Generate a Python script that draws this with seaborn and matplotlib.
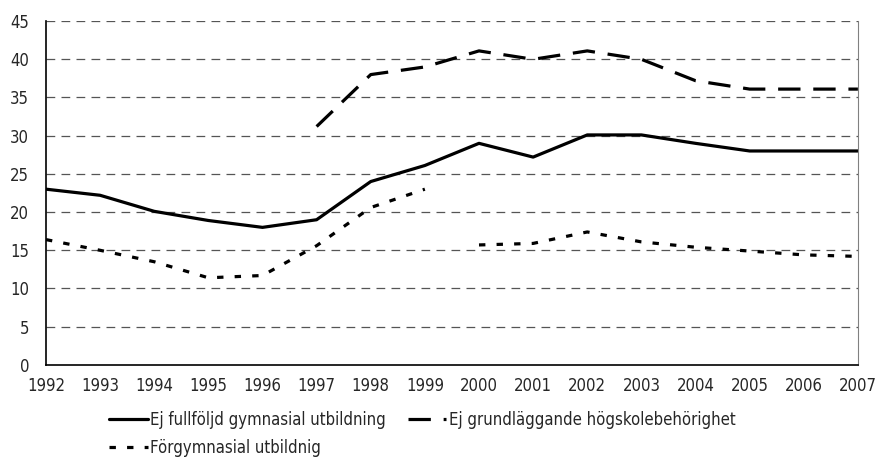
import numpy as np
import pandas as pd
import matplotlib
matplotlib.use("Agg")
import matplotlib.pyplot as plt
import seaborn as sns

# Data
years = list(range(1992, 2008))
ej_fullfoljd = [23.0, 22.2, 20.1, 18.9, 18.0, 19.0, 24.0, 26.1,
                29.0, 27.2, 30.1, 30.1, 29.0, 28.0, 28.0, 28.0]
ej_behorighet = [np.nan, np.nan, np.nan, np.nan, np.nan, 31.2, 38.0, 39.0,
                 41.1, 40.0, 41.1, 40.0, 37.2, 36.1, 36.1, 36.1]
# Förgymnasial: two separate segments (break between 1999 and 2000)
forgymn_years_a = list(range(1992, 2000))
forgymn_a = [16.4, 15.0, 13.5, 11.4, 11.7, 15.6, 20.6, 23.0]
forgymn_years_b = list(range(2000, 2008))
forgymn_b = [15.7, 15.9, 17.4, 16.1, 15.4, 14.9, 14.4, 14.2]

labels = ["Ej fullföljd gymnasial utbildning",
          "Ej grundläggande högskolebehörighet",
          "Förgymnasial utbildnig"]

sns.set_style("white")
plt.rcParams['font.family'] = ['DejaVu Sans']
plt.rcParams['font.stretch'] = 'condensed'

fig = plt.figure(figsize=(8.79, 4.69), dpi=100)
ax = fig.add_axes([0.0523, 0.222, 0.976 - 0.0523, 0.955 - 0.222])

# gridlines
for v in range(5, 50, 5):
    ax.axhline(v, color="#555555", lw=0.9, dashes=(7, 5), zorder=0)

lw = 2.3
sns.lineplot(x=years, y=ej_fullfoljd, ax=ax, color="black", lw=lw,
             label=labels[0])
df2 = pd.DataFrame({"year": years, "v": ej_behorighet}).dropna()
sns.lineplot(data=df2, x="year", y="v", ax=ax, color="black", lw=lw,
             label=labels[1])
ax.lines[-1].set_dashes((7, 4))
sns.lineplot(x=forgymn_years_a, y=forgymn_a, ax=ax, color="black", lw=lw,
             label=labels[2])
ax.lines[-1].set_dashes((2, 3.5))
sns.lineplot(x=forgymn_years_b, y=forgymn_b, ax=ax, color="black", lw=lw)
ax.lines[-1].set_dashes((2, 3.5))

ax.set_xlim(1992, 2007)
ax.set_ylim(0, 45)
ax.set_xticks(years)
ax.set_yticks(range(0, 50, 5))
ax.tick_params(axis="x", length=5, width=1, color="black", direction="out",
               labelsize=12, pad=4)
ax.tick_params(axis="y", length=0, labelsize=12, pad=12)
ax.set_xlabel("")
ax.set_ylabel("")

ax.spines["top"].set_visible(False)
ax.spines["right"].set_color("#808080")
ax.spines["left"].set_color("black")
ax.spines["bottom"].set_color("black")
for s in ["left", "bottom"]:
    ax.spines[s].set_linewidth(1.2)

handles, labs = ax.get_legend_handles_labels()
order = [0, 2, 1]
ax.legend([handles[i] for i in order], [labs[i] for i in order],
          loc="upper left", bbox_to_anchor=(0.07, -0.115), ncol=2,
          frameon=False, fontsize=12, handlelength=2.3, handletextpad=0.15,
          columnspacing=1.3, labelspacing=0.6, borderaxespad=0)

fig.savefig("out.png", dpi=100)
